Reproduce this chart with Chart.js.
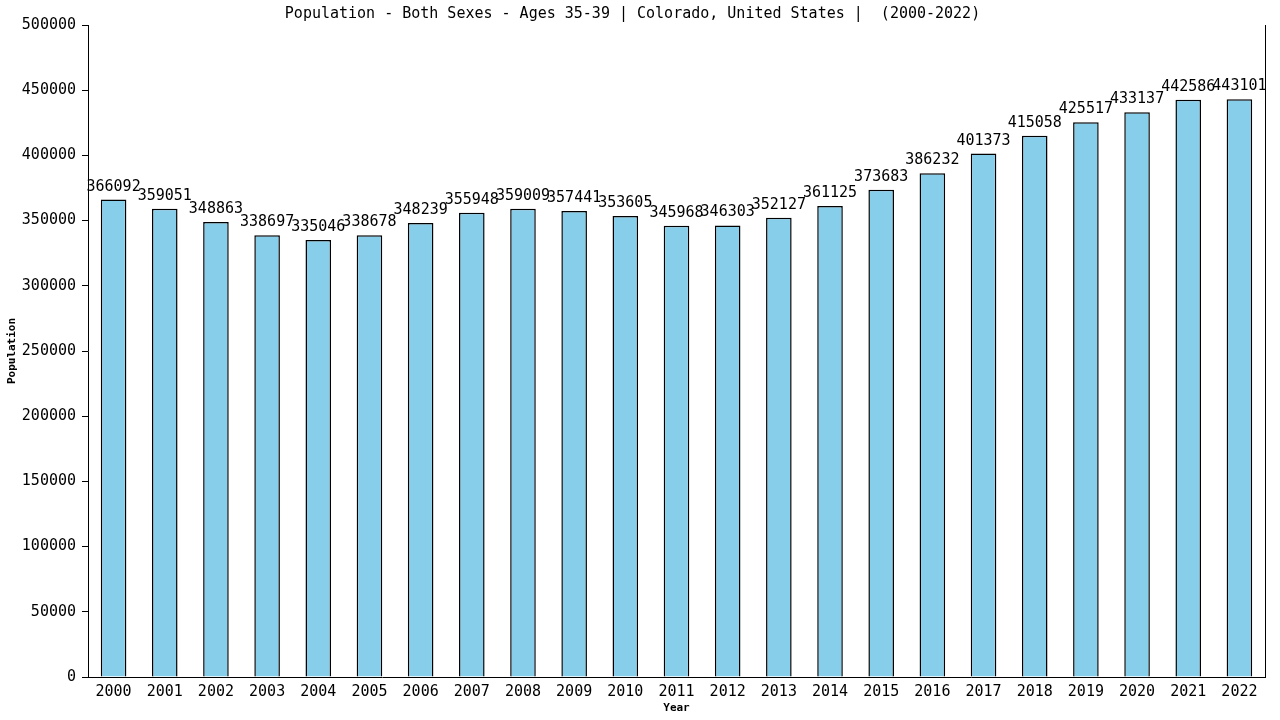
<!DOCTYPE html>
<html>
<head>
<meta charset="utf-8">
<script src="https://cdn.jsdelivr.net/npm/chart.js@4/dist/chart.umd.min.js"></script>
<style>
  html, body { margin: 0; padding: 0; background: #fff; }
  #wrap { width: 1280px; height: 720px; }
</style>
</head>
<body>
<div id="wrap"><canvas id="chart"></canvas></div>
<script>
// Population, both sexes, ages 35-39, Colorado
const years = ['2000', '2001', '2002', '2003', '2004', '2005', '2006', '2007', '2008', '2009', '2010', '2011',
    '2012', '2013', '2014', '2015', '2016', '2017', '2018', '2019', '2020', '2021', '2022'];
const population = [366092, 359051, 348863, 338697, 335046, 338678, 348239, 355948, 359009, 357441, 353605, 345968,
    346303, 352127, 361125, 373683, 386232, 401373, 415058, 425517, 433137, 442586, 443101];
const yMax = 500000;
const yStep = 50000;

const monoFont = "'DejaVu Sans Mono', monospace";

// values written above each bar
const barLabels = {
    id: 'barLabels',
    afterDatasetsDraw(chart) {
        const ctx = chart.ctx;
        const meta = chart.getDatasetMeta(0);
        ctx.save();
        ctx.font = '15px ' + monoFont;
        ctx.fillStyle = '#000';
        ctx.textAlign = 'center';
        ctx.textBaseline = 'alphabetic';
        meta.data.forEach((bar, i) => {
            ctx.fillText(String(population[i]), bar.x, bar.y - 9);
        });
        ctx.restore();
    }
};

// right edge line of the plot frame
const rightEdge = {
    id: 'rightEdge',
    afterDraw(chart) {
        const { ctx, chartArea } = chart;
        ctx.save();
        ctx.strokeStyle = '#000';
        ctx.lineWidth = 1;
        ctx.beginPath();
        ctx.moveTo(Math.round(chartArea.right) + 0.5, chartArea.top);
        ctx.lineTo(Math.round(chartArea.right) + 0.5, chartArea.bottom);
        ctx.stroke();
        ctx.restore();
    }
};

new Chart(document.getElementById('chart'), {
    type: 'bar',
    data: {
        labels: years,
        datasets: [{
            label: 'Population',
            data: population,
            backgroundColor: '#87ceeb',
            borderColor: '#000',
            borderWidth: 1.5,
            barPercentage: 0.5,
            categoryPercentage: 1.0
        }]
    },
    options: {
        responsive: true,
        maintainAspectRatio: false,
        animation: false,
        layout: { padding: { left: 0, right: 15, top: 0, bottom: 0 } },
        plugins: {
            legend: { display: false },
            tooltip: { enabled: false },
            title: {
                display: true,
                text: 'Population - Both Sexes - Ages 35-39 | Colorado, United States |  (2000-2022)',
                color: '#000',
                font: { family: monoFont, size: 15, weight: 'normal', lineHeight: 1.2 },
                padding: { top: 5, bottom: 2 }
            }
        },
        scales: {
            x: {
                grid: { display: false, drawTicks: false },
                border: { color: '#000', width: 1 },
                ticks: {
                    color: '#000',
                    font: { family: monoFont, size: 15 },
                    padding: 6,
                    maxRotation: 0,
                    autoSkip: false
                },
                title: {
                    display: true,
                    text: 'Year',
                    color: '#000',
                    font: { family: monoFont, size: 11, weight: 'bold' },
                    padding: { top: 0, bottom: 5 }
                },
                afterFit(scale) { scale.height = 43; }
            },
            y: {
                min: 0,
                max: yMax,
                grid: { drawOnChartArea: false, drawTicks: true, tickLength: 6, color: '#000' },
                border: { color: '#000', width: 1 },
                ticks: {
                    stepSize: yStep,
                    color: '#000',
                    font: { family: monoFont, size: 15 },
                    padding: 6,
                    callback: (value) => String(value)
                },
                title: {
                    display: true,
                    text: 'Population',
                    color: '#000',
                    font: { family: monoFont, size: 11, weight: 'bold' },
                    padding: { top: 6, bottom: 0 }
                },
                afterFit(scale) { scale.width = 88; }
            }
        }
    },
    plugins: [barLabels, rightEdge]
});
</script>
</body>
</html>
